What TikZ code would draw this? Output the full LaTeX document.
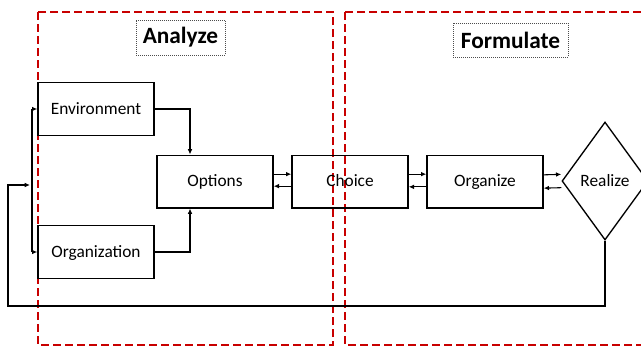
\documentclass[tikz,border=0pt]{standalone}
\usepackage{fontspec}
\setmainfont{Carlito}
\usetikzlibrary{shapes.geometric,arrows.meta}

\tikzset{
  stepbox/.style={rectangle, draw=black, line width=1pt, minimum width=87pt,
    minimum height=39.5pt, font=\fontsize{13}{15}\selectfont,
    text height=10pt, text depth=2pt},
  phase/.style={draw={rgb,255:red,200;green,0;blue,0}, line width=2.2pt,
    dash pattern=on 6pt off 3pt},
  phasetitle/.style={draw=black!70, densely dotted, line width=0.5pt,
    font=\bfseries\fontsize{17.5}{20}\selectfont, inner sep=0pt},
  link/.style={-{Latex[length=4pt,width=3.5pt]}, line width=0.8pt},
}

\begin{document}
\begin{tikzpicture}[x=0.75pt, y=-0.75pt]
\useasboundingbox (0,0) rectangle (641,347);
\clip (0,0) rectangle (641,347);

% phases
\draw[phase] (38,12) rectangle (333,345);
\draw[phase] (345,12) rectangle (700,345);
\node[phasetitle, minimum width=66.75pt, minimum height=26.25pt] (analyze) at (180.5,37.5) {Analyze};
\node[phasetitle, minimum width=86.25pt, minimum height=25.5pt] (formulate) at (510.5,40) {Formulate};

% steps
\node[stepbox] (env) at (96,109) {Environment};
\node[stepbox] (org) at (96,252) {Organization};
\node[stepbox] (opt) at (215,181.5) {Options};
\node[stepbox] (cho) at (350,181.5) {Choice};
\node[stepbox] (orgz) at (485,181.5) {Organize};
\node[draw, diamond, line width=1pt, inner sep=0pt, minimum width=64.5pt,
    minimum height=88.5pt, font=\fontsize{13}{15}\selectfont] (real) at (605,181) {Realize};

% inputs to options
\draw[link] (env.east) -| ([xshift=-18.75pt]opt.north);
\draw[link] (org.east) -| ([xshift=-18.75pt]opt.south);

% forward and back
\draw[link] ([yshift=5.5pt]opt.east) -- ([yshift=5.5pt]cho.west);
\draw[link] ([yshift=-3.5pt]cho.west) -- ([yshift=-3.5pt]opt.east);
\draw[link] ([yshift=5.5pt]cho.east) -- ([yshift=5.5pt]orgz.west);
\draw[link] ([yshift=-4pt]orgz.west) -- ([yshift=-4pt]cho.east);
\draw[link] ([yshift=5pt]orgz.east) -- ([yshift=5pt]real.west);
\draw[link] ([yshift=-5pt]real.west) -- ([yshift=-5pt]orgz.east);

% feedback loop
\coordinate (fbl) at (8,306);
\coordinate (fbin) at (30,185);
\coordinate (split) at (32,185);
\draw[link] (real.south) |- (fbl) |- (fbin);
\draw[line width=0.8pt] (split |- env.west) -- (split |- org.west);
\draw[link] (split |- env.west) -- (env.west);
\draw[link] (split |- org.west) -- (org.west);
\end{tikzpicture}
\end{document}
